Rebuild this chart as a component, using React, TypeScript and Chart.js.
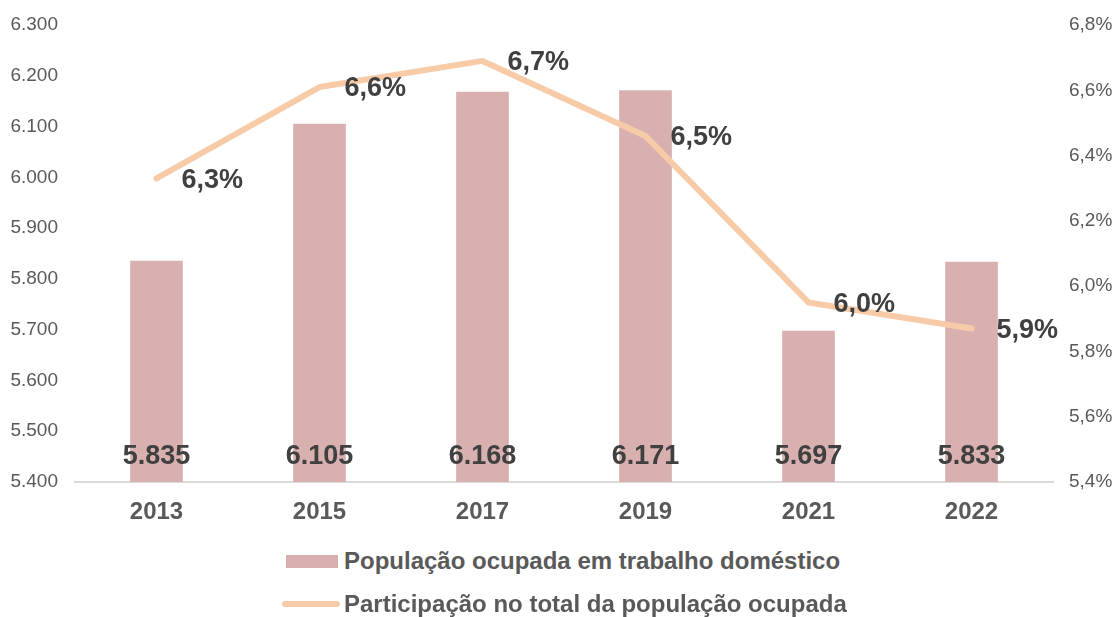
import React, { useEffect, useRef } from "react";
import { Chart, registerables } from "chart.js";

Chart.register(...registerables);

const categories = ["2013", "2015", "2017", "2019", "2021", "2022"];
const populacao = [5835, 6105, 6168, 6171, 5697, 5833];
const participacao = [6.33, 6.61, 6.69, 6.46, 5.95, 5.87];
const leftTicks = [5400, 5500, 5600, 5700, 5800, 5900, 6000, 6100, 6200, 6300];
const rightTicks = [5.4, 5.6, 5.8, 6.0, 6.2, 6.4, 6.6, 6.8];
const barLabel = "População ocupada em trabalho doméstico";
const lineLabel = "Participação no total da população ocupada";

const BAR_COLOR = "#d9b0b0";
const LINE_COLOR = "#f8cba8";
const FONT = "'Liberation Sans', Arial, sans-serif";

const fmtThousands = (v: number) => {
  const s = String(Math.round(v));
  return s.replace(/\B(?=(\d{3})+(?!\d))/g, ".");
};
const fmtPct = (v: number, d: number) => (Math.round(v * Math.pow(10, d)) / Math.pow(10, d)).toFixed(d).replace(".", ",") + "%";

const labelsPlugin = {
  id: "valueLabels",
  afterDatasetsDraw(chart: any) {
    const ctx = chart.ctx;
    const area = chart.chartArea;
    ctx.save();
    ctx.fillStyle = "#404040";
    ctx.font = `bold 27px ${FONT}`;
    const barMeta = chart.getDatasetMeta(0);
    ctx.textAlign = "center";
    ctx.textBaseline = "middle";
    barMeta.data.forEach((el: any, i: number) => {
      ctx.fillText(fmtThousands(populacao[i]), el.x, area.bottom - 25);
    });
    const lineMeta = chart.getDatasetMeta(1);
    ctx.textAlign = "left";
    lineMeta.data.forEach((el: any, i: number) => {
      ctx.fillText(fmtPct(participacao[i], 1), el.x + 25, el.y + 2);
    });
    ctx.restore();
  },
};

export default function App() {
  const ref = useRef<HTMLCanvasElement>(null);
  useEffect(() => {
    if (!ref.current) return;
    const chart = new Chart(ref.current, {
      type: "bar",
      data: {
        labels: categories,
        datasets: [
          {
            type: "bar",
            label: barLabel,
            data: populacao,
            backgroundColor: BAR_COLOR,
            yAxisID: "y",
            barThickness: 52,
            order: 2,
          },
          {
            type: "line",
            label: lineLabel,
            data: participacao,
            borderColor: LINE_COLOR,
            backgroundColor: LINE_COLOR,
            borderWidth: 6,
            borderCapStyle: "round",
            borderJoinStyle: "round",
            pointRadius: 0,
            tension: 0,
            yAxisID: "y1",
            order: 1,
          },
        ],
      },
      options: {
        responsive: false,
        animation: false,
        layout: { padding: { top: 25, left: 0, right: 0, bottom: 0 } },
        plugins: {
          legend: { display: false },
          tooltip: { enabled: false },
        },
        scales: {
          x: {
            grid: { display: false, drawTicks: false },
            border: { display: true, color: "#d9d9d9", width: 2 },
            ticks: {
              color: "#595959",
              font: { family: FONT, size: 24, weight: "bold" },
              padding: 16,
            },
            afterFit(scale: any) {
              scale.height = 48;
            },
          },
          y: {
            position: "left",
            min: 5400,
            max: 6300,
            grid: { display: false, drawTicks: false },
            border: { display: false },
            afterBuildTicks(scale: any) {
              scale.ticks = leftTicks.map((v) => ({ value: v }));
            },
            ticks: {
              color: "#595959",
              font: { family: FONT, size: 19 },
              padding: 17,
              callback: (v: any) => fmtThousands(Number(v)),
            },
            afterFit(scale: any) {
              scale.width = 75;
              scale.paddingTop = 0;
              scale.paddingBottom = 0;
            },
          },
          y1: {
            position: "right",
            min: 5.4,
            max: 6.8,
            grid: { display: false, drawTicks: false },
            border: { display: false },
            afterBuildTicks(scale: any) {
              scale.ticks = rightTicks.map((v) => ({ value: v }));
            },
            ticks: {
              color: "#595959",
              font: { family: FONT, size: 19 },
              padding: 16,
              callback: (v: any) => fmtPct(Number(v), 1),
            },
            afterFit(scale: any) {
              scale.width = 60;
              scale.paddingTop = 0;
              scale.paddingBottom = 0;
            },
          },
        },
      },
      plugins: [labelsPlugin],
    } as any);
    return () => chart.destroy();
  }, []);

  const textStyle: React.CSSProperties = {
    fontFamily: FONT,
    fontWeight: "bold",
    fontSize: 24,
    color: "#595959",
    whiteSpace: "nowrap",
  };

  return (
    <div style={{ position: "fixed", left: 0, top: 0, width: 1113, height: 617, background: "#fff" }}>
      <canvas ref={ref} width={1113} height={530} style={{ display: "block" }} />
      <div style={{ position: "absolute", left: 286, top: 547, display: "flex", alignItems: "center", height: 28 }}>
        <span style={{ display: "inline-block", width: 52, height: 13, background: BAR_COLOR, marginRight: 6 }} />
        <span style={textStyle}>{barLabel}</span>
      </div>
      <div style={{ position: "absolute", left: 282, top: 590, display: "flex", alignItems: "center", height: 28 }}>
        <span style={{ display: "inline-block", width: 58, height: 6, borderRadius: 3, background: LINE_COLOR, marginRight: 4 }} />
        <span style={textStyle}>{lineLabel}</span>
      </div>
    </div>
  );
}
